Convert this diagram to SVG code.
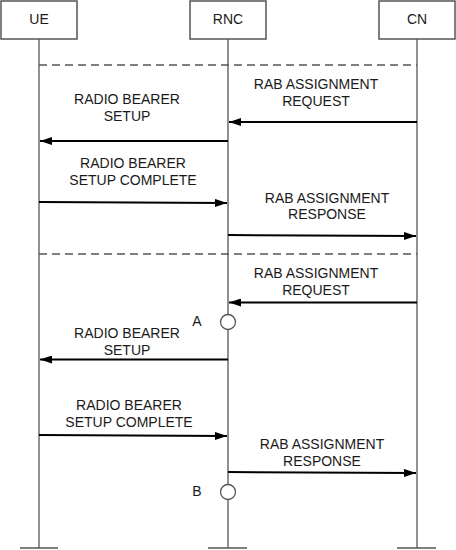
<svg xmlns="http://www.w3.org/2000/svg" width="456" height="550" viewBox="0 0 456 550">
<style>
text{font-family:"Liberation Sans",Arial,sans-serif;font-size:14px;fill:#1a1a1a;text-anchor:middle}
.box{fill:#fff;stroke:#555;stroke-width:1.5}
.life{stroke:#555;stroke-width:1.3;fill:none}
.dash{stroke:#555;stroke-width:1.3;stroke-dasharray:8,5;fill:none}
.msg{stroke:#000;stroke-width:2;fill:none;marker-end:url(#ah)}
.mark{fill:#fff;stroke:#555;stroke-width:1.3}
</style>
<defs>
<marker id="ah" viewBox="0 0 12 8" refX="12" refY="4" markerWidth="12" markerHeight="8" markerUnits="userSpaceOnUse" orient="auto">
<path d="M0,0 L12,4 L0,8 Z" fill="#000"/>
</marker>
</defs>
<g id="UE">
<rect class="box" x="1" y="1" width="76" height="38"/>
<text x="39" y="24">UE</text>
<line class="life" x1="39" y1="39" x2="39" y2="548"/>
<line class="life" x1="20" y1="548" x2="58" y2="548"/>
</g>
<g id="RNC">
<rect class="box" x="190" y="1" width="76" height="38"/>
<text x="228" y="24">RNC</text>
<line class="life" x1="228" y1="39" x2="228" y2="548"/>
<line class="life" x1="208" y1="548" x2="247" y2="548"/>
</g>
<g id="CN">
<rect class="box" x="379" y="1" width="76" height="38"/>
<text x="417" y="24">CN</text>
<line class="life" x1="417" y1="39" x2="417" y2="548"/>
<line class="life" x1="397" y1="548" x2="436" y2="548"/>
</g>
<g id="connectors">
<line class="dash" x1="39" y1="65" x2="417" y2="65"/>
<line class="dash" x1="39" y1="254" x2="417" y2="254"/>
<line class="msg" x1="417" y1="122" x2="229" y2="122"/>
<line class="msg" x1="228" y1="141" x2="40" y2="141"/>
<line class="msg" x1="39" y1="202" x2="227" y2="203"/>
<line class="msg" x1="228" y1="235" x2="416" y2="236"/>
<line class="msg" x1="417" y1="302.5" x2="229" y2="302.5"/>
<line class="msg" x1="228" y1="359.5" x2="40" y2="359.5"/>
<line class="msg" x1="39" y1="435" x2="227" y2="436"/>
<line class="msg" x1="228" y1="472" x2="416" y2="473"/>
</g>
<g id="labels">
<text x="316" y="89">RAB ASSIGNMENT</text>
<text x="316" y="106">REQUEST</text>
<text x="127" y="104">RADIO BEARER</text>
<text x="127" y="121">SETUP</text>
<text x="133" y="168">RADIO BEARER</text>
<text x="133" y="185">SETUP COMPLETE</text>
<text x="327" y="203">RAB ASSIGNMENT</text>
<text x="327" y="219">RESPONSE</text>
<text x="316" y="278">RAB ASSIGNMENT</text>
<text x="316" y="295">REQUEST</text>
<text x="127" y="338">RADIO BEARER</text>
<text x="127" y="355">SETUP</text>
<text x="129" y="410">RADIO BEARER</text>
<text x="129" y="427">SETUP COMPLETE</text>
<text x="322" y="449">RAB ASSIGNMENT</text>
<text x="322" y="466">RESPONSE</text>
</g>
<g id="markA">
<circle class="mark" cx="228" cy="322" r="7.5"/>
<text x="197" y="326">A</text>
</g>
<g id="markB">
<circle class="mark" cx="228" cy="492" r="7.5"/>
<text x="197" y="496">B</text>
</g>
</svg>
